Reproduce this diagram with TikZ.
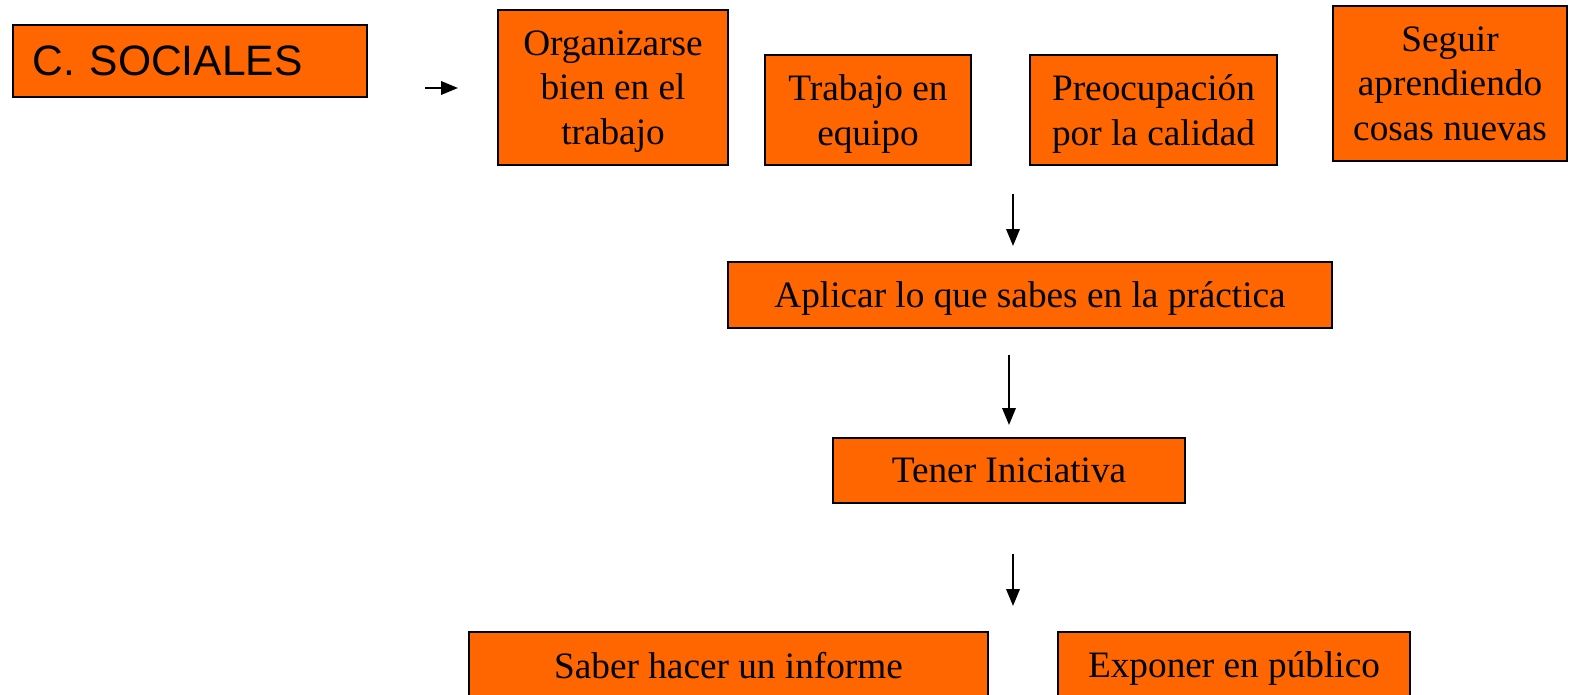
\documentclass[tikz,border=0pt]{standalone}
\usepackage{fontspec}
\setmainfont{Liberation Serif}
\newfontfamily\arialfam{Liberation Sans}
\usetikzlibrary{arrows.meta,positioning}
\definecolor{naranja}{HTML}{FF6600}

\begin{document}
\begin{tikzpicture}[x=0.01cm, y=-0.01cm]
  \tikzstyle{caja}=[rectangle, draw=black, fill=naranja, line width=0.6pt, inner sep=0pt, text depth=0pt, align=center, font=\fontsize{10.6}{12.7}\selectfont]
  \tikzstyle{flecha}=[-{Triangle[length=4.8pt,width=3.8pt]}, line width=0.6pt]

  \useasboundingbox (0,0) rectangle (1577,694);

  % Titulo
  \node[caja, minimum height=0.72cm, text width=3.14cm, inner xsep=0.2cm, align=left, font=\arialfam\fontsize{12.1}{14}\selectfont] (soc) at (190,61) {C. SOCIALES};

  % Fila superior
  \node[caja, minimum width=2.30cm, minimum height=1.55cm] (org) at (613,87.5) {Organizarse\\bien en el\\trabajo};
  \node[caja, minimum width=2.06cm, minimum height=1.10cm] (trab) at (868,110) {Trabajo en\\equipo};
  \node[caja, minimum width=2.47cm, minimum height=1.10cm] (preoc) at (1153.5,110) {Preocupación\\por la calidad};
  \node[caja, minimum width=2.34cm, minimum height=1.55cm] (seg) at (1450,83.5) {Seguir\\aprendiendo\\cosas nuevas};

  % Columna central
  \node[caja, minimum width=6.04cm, minimum height=0.66cm] (apl) at (1030,295) {Aplicar lo que sabes en la práctica};
  \node[caja, minimum width=3.52cm, minimum height=0.65cm] (ten) at (1009,470.5) {Tener Iniciativa};

  % Fila inferior
  \node[caja, minimum width=5.19cm, minimum height=0.66cm] (sab) at (728.5,665) {Saber hacer un informe};
  \node[caja, minimum width=3.52cm, minimum height=0.66cm] (exp) at (1234,665) {Exponer en público};

  % Flechas
  \coordinate (h0) at (425,88);
  \coordinate (h1) at (458,88);
  \coordinate (a0) at (1013,194);
  \coordinate (a1) at (1013,246);
  \coordinate (b0) at (1009,355);
  \coordinate (b1) at (1009,425);
  \coordinate (c0) at (1013,554);
  \coordinate (c1) at (1013,606);
  \draw[flecha] (h0) -- (h1);
  \draw[flecha] (a0) -- (a1);
  \draw[flecha] (b0) -- (b1);
  \draw[flecha] (c0) -- (c1);
\end{tikzpicture}
\end{document}
